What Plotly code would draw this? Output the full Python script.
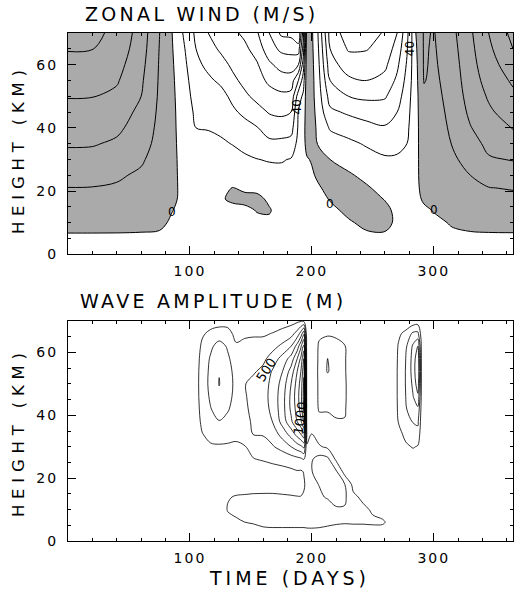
import numpy as np
import plotly.graph_objects as go

# ---------------- top panel: zonal wind (m/s), westerly positive ----------------
wind_days = [0, 20, 40, 60, 75, 85, 95, 105, 115, 125, 135, 145, 155, 165, 175, 183,
             189, 193, 196, 200, 205, 215, 230, 245, 260, 270, 278, 285, 292, 300,
             315, 330, 345, 365]
wind_heights = [6.3, 10, 14, 17.5, 21, 25, 30, 35, 40, 45, 50, 55, 60, 65, 70]
# one column per day, listed from the lowest height to the highest
wind_cols = [
    [-0.5, 4, 6.5, 8.2, 9.9, 12.5, 17, 21, 24, 27, 30.5, 34, 37.5, 40.5, 43],
    [-0.5, 4, 6.5, 8.2, 9.8, 12.2, 16.5, 20.8, 24, 27, 30.3, 33.5, 37, 40.2, 42],
    [-0.5, 3.5, 6, 7.8, 9.2, 11, 15, 18.5, 22, 25, 28, 31, 33.5, 36, 38],
    [-0.5, 2.2, 4.5, 6, 7.2, 8.8, 11, 13.5, 15.5, 17.5, 20, 21.5, 23, 24.5, 25.5],
    [-0.5, 1.0, 2.6, 4, 5, 5.5, 6.5, 7.2, 7.8, 8.3, 8.7, 9, 9.3, 9.7, 10.2],
    [-0.5, -0.6, 0.2, 1.2, 1.6, 1.8, 2, 2, 2, 2, 2, 1.8, 1.5, 1, 0.5],
    [-0.5, -1, -1.2, -1.4, -1.6, -2, -2.5, -3, -3.5, -4, -5, -6, -7.5, -9, -11],
    [-1, -2, -3, -3.7, -4.3, -5.5, -7, -8.5, -10, -12, -14, -16, -18, -20, -22],
    [-1, -2, -2.8, -3.3, -4.5, -6, -7.5, -9, -10.2, -12.5, -15, -18.5, -22, -26, -30],
    [-1, -2, -2.5, -0.8, -1.8, -5, -7, -8.8, -11.5, -14, -17, -21.5, -26, -31.5, -36],
    [-1, -1.5, -2, 1.2, 0.2, -4, -7, -10.3, -14, -18.5, -22, -27.5, -32, -35.5, -38],
    [-1, -1.5, -1.2, 1.5, -1, -5, -8.5, -12.5, -17, -22, -28, -33, -35.5, -38, -42],
    [-1, -1.2, 0.3, 1.5, -1.5, -5, -9.8, -14.5, -19.5, -26, -33, -36, -39, -44, -49],
    [-1, -1, 0.5, -1, -4, -7, -10.6, -18, -24, -30.8, -36, -42, -48, -56, -60],
    [-1, -1.5, -2.5, -3.5, -5, -7, -10.8, -17.5, -25, -32, -38, -45, -54, -62, -72],
    [-1, -1.5, -2.5, -3.5, -5, -7, -9.4, -16, -24, -30, -37, -45, -55, -63, -73],
    [-1, -1.5, -2.5, -3, -4, -5, -6, -7, -8.5, -9.5, -15, -30, -50, -65, -80],
    [-1, -1.5, -2, -2.5, -3, -3.5, -3, -2, -3, -5, -8, -15, -25, -35, -45],
    [-0.5, -1, -1.5, -1, -0.8, -1, -0.5, 2, 4, 5, 6, 7, 8, 8, 8],
    [-0.5, -1, -1.5, -1.5, -1.2, -0.8, 0.5, 3, 4, 3.5, 3, 3, 2.5, 2, 1.5],
    [-0.5, -1, -1.5, -1.5, -0.8, 1, 2, -0.3, -2, -3.5, -5, -6, -7, -8.5, -10],
    [-0.5, -1, -1, 0.3, 2, 3, 0, -5, -11, -18, -24, -30, -36, -40, -44],
    [-0.5, -0.5, 1, 2.5, 3, 1, -3, -8, -14, -21.5, -30, -38, -45, -51, -55],
    [-0.5, 1, 2.5, 2.5, 0.8, -2, -6.5, -11, -17, -24, -32, -40, -46, -50.5, -54],
    [-0.5, 1.5, 1.5, -0.3, -2.5, -5, -9, -13, -19, -25, -31, -37, -42, -46, -49],
    [-0.5, -1, -1.5, -2, -3.5, -5, -9, -12, -16, -20, -24, -28, -32, -36, -40],
    [-0.5, -1, -1.5, -2, -3, -4.5, -7, -10, -12, -13.5, -15, -17, -19, -21, -23],
    [-0.5, -0.8, -1, -1, -1.2, -1.5, -2, -2.5, -3, -3.2, -3.5, -3.5, -3, -2, -0.5],
    [-0.5, -1, -0.6, 0.5, 1.5, 2.5, 3.5, 4.5, 5.5, 6.5, 8, 10.5, 11, 11, 11],
    [-0.5, -0.8, 0.2, 1.5, 2.5, 3.2, 4, 4.8, 5.5, 6.2, 7, 7.8, 8.5, 9, 9.5],
    [-0.5, 0.3, 2.5, 4, 5.5, 7, 8.5, 10.3, 11.5, 12.5, 13.5, 14.5, 15.5, 16.5, 17.5],
    [-0.5, 1.5, 4, 6.5, 8.5, 10, 13, 16, 19.5, 22, 24, 25.5, 26.5, 27.5, 28.5],
    [-0.5, 2.5, 5.5, 8, 9.8, 13, 19, 22.5, 25.5, 28.5, 31, 33.5, 36, 38, 40],
    [-0.5, 3, 6, 8.3, 10.5, 15, 20.5, 25.5, 30.5, 34.5, 38, 41.5, 45.5, 50, 53],
]
wind_label_text = ["0", "0", "0", "40", "40"]
wind_label_day = [85, 215, 300, 188, 280]
wind_label_km = [13.5, 16, 14, 46.5, 65]
wind_label_angle = [0, 0, 0, -90, -90]

# ---------------- bottom panel: wave amplitude (m) ----------------
amp_days = [0, 104, 110, 117, 124, 131, 138, 145, 152, 160, 168, 176, 183, 188, 191,
            193.5, 196, 200, 206, 213, 220, 227, 234, 242, 250, 258, 265, 271, 277,
            283, 287, 290, 294, 365]
amp_heights = [0, 3, 6, 10, 14, 18, 22, 26, 30, 34, 38, 42, 46, 50, 54, 58, 62, 66, 70]
amp_cols = [
    [0] * 19,
    [0, 0, 0, 0, 0, 0, 0, 0, 0, 50, 100, 120, 130, 130, 130, 120, 100, 60, 0],
    [0, 0, 0, 0, 0, 0, 0, 50, 150, 240, 300, 330, 350, 360, 350, 330, 290, 220, 80],
    [0, 0, 0, 0, 0, 0, 0, 80, 220, 320, 420, 490, 540, 570, 560, 530, 450, 300, 150],
    [0, 0, 0, 0, 0, 0, 0, 100, 230, 330, 490, 600, 700, 760, 740, 640, 600, 360, 150],
    [0, 0, 150, 270, 230, 80, 0, 100, 220, 330, 440, 520, 570, 590, 580, 540, 470, 330, 160],
    [0, 60, 220, 300, 270, 120, 0, 100, 200, 320, 380, 410, 430, 440, 420, 370, 280, 180, 80],
    [0, 120, 250, 310, 280, 130, 0, 120, 240, 340, 420, 460, 480, 490, 480, 430, 330, 200, 90],
    [0, 160, 270, 320, 290, 140, 80, 240, 330, 510, 540, 560, 570, 570, 470, 400, 330, 220, 100],
    [0, 220, 280, 320, 290, 150, 120, 270, 380, 520, 600, 640, 660, 650, 560, 440, 340, 220, 110],
    [0, 220, 290, 320, 290, 150, 160, 300, 480, 620, 760, 820, 840, 820, 780, 620, 420, 260, 120],
    [0, 220, 290, 310, 280, 140, 180, 330, 600, 850, 1100, 1150, 1150, 1100, 1000, 850, 560, 320, 150],
    [0, 220, 290, 300, 270, 130, 200, 380, 750, 1100, 1450, 1550, 1560, 1500, 1350, 1100, 750, 400, 170],
    [0, 220, 290, 300, 260, 120, 230, 420, 880, 1350, 1750, 1850, 1900, 1850, 1750, 1500, 1100, 600, 200],
    [0, 220, 290, 300, 260, 130, 220, 450, 950, 1500, 1950, 2100, 2150, 2100, 2000, 1800, 1450, 850, 230],
    [0, 220, 290, 300, 270, 230, 260, 500, 1050, 1700, 2300, 2550, 2600, 2550, 2450, 2250, 1850, 1200, 200],
    [0, 220, 300, 320, 320, 300, 300, 300, 270, 180, 60, 20, 10, 10, 10, 10, 10, 10, 0],
    [0, 210, 320, 380, 420, 460, 495, 480, 400, 260, 80, 30, 20, 20, 20, 20, 10, 10, 0],
    [0, 200, 320, 400, 470, 505, 570, 600, 280, 120, 150, 280, 300, 300, 310, 300, 290, 200, 50],
    [0, 180, 300, 400, 520, 560, 580, 560, 200, 80, 160, 280, 320, 360, 520, 510, 330, 230, 50],
    [0, 160, 280, 480, 560, 580, 540, 200, 60, 100, 230, 300, 320, 330, 360, 340, 300, 220, 40],
    [0, 150, 270, 480, 540, 505, 150, 60, 30, 60, 240, 270, 280, 280, 270, 270, 260, 180, 30],
    [0, 140, 280, 340, 300, 180, 60, 20, 10, 20, 80, 100, 100, 100, 100, 90, 80, 50, 0],
    [0, 140, 280, 300, 200, 80, 20, 0, 0, 0, 0, 0, 0, 0, 0, 0, 0, 0, 0],
    [0, 150, 290, 220, 120, 30, 0, 0, 0, 0, 0, 0, 0, 0, 0, 0, 0, 0, 0],
    [0, 160, 280, 150, 50, 0, 0, 0, 0, 0, 0, 0, 0, 0, 0, 0, 0, 0, 0],
    [0, 100, 180, 100, 20, 0, 0, 0, 0, 0, 0, 0, 0, 0, 0, 0, 0, 0, 0],
    [0, 0, 0, 0, 0, 0, 0, 0, 30, 150, 260, 290, 300, 300, 300, 290, 270, 200, 30],
    [0, 0, 0, 0, 0, 0, 0, 60, 200, 330, 420, 470, 500, 510, 510, 500, 450, 320, 60],
    [0, 0, 0, 0, 0, 0, 0, 100, 270, 430, 510, 680, 740, 800, 850, 840, 790, 550, 100],
    [0, 0, 0, 0, 0, 0, 0, 50, 230, 420, 540, 700, 950, 1150, 1250, 1200, 1000, 560, 120],
    [0, 0, 0, 0, 0, 0, 0, 0, 30, 80, 120, 150, 180, 200, 200, 200, 180, 120, 30],
    [0] * 19,
    [0] * 19,
]
amp_label_text = ["500", "1000"]
amp_label_day = [163, 190.5]
amp_label_km = [54.5, 39]
amp_label_angle = [-57, -82]

x_tick_vals = [100, 200, 300]
y_tick_vals = [0, 20, 40, 60]

# ---------------- figure ----------------
FONT = "DejaVu Sans"
INK = "#000000"


def spaced(s, px):
    return '<span style="letter-spacing:%.1fpx">%s</span>' % (px, s)


z_wind = np.array(wind_cols, dtype=float).T
z_amp = np.array(amp_cols, dtype=float).T

gray = "#aaaaaa"
fig = go.Figure()
fig.add_trace(go.Contour(
    x=wind_days, y=wind_heights, z=z_wind,
    contours=dict(start=-90, end=60, size=10, coloring="fill", showlabels=False),
    colorscale=[[0, "white"], [0.6, "white"], [0.6, gray], [1, gray]],
    zmin=-90, zmax=60, showscale=False,
    line=dict(color=INK, width=1, smoothing=1),
    hoverinfo="skip", xaxis="x", yaxis="y"))
fig.add_trace(go.Contour(
    x=amp_days, y=amp_heights, z=z_amp,
    contours=dict(start=250, end=3000, size=250, coloring="none", showlabels=False),
    showscale=False,
    line=dict(color=INK, width=0.8, smoothing=1),
    hoverinfo="skip", xaxis="x2", yaxis="y2"))

tickfont = dict(family=FONT, size=14, color=INK, weight=400)


def xaxis_cfg(anchor):
    return dict(range=[0, 365], tickvals=x_tick_vals,
                ticktext=[spaced(str(v), 2) for v in x_tick_vals],
                ticks="inside", ticklen=8, tickwidth=1, tickcolor=INK,
                minor=dict(ticks="inside", ticklen=3, dtick=20, tick0=0, tickcolor=INK),
                showline=True, linecolor=INK, linewidth=1.2, mirror="allticks",
                showgrid=False, zeroline=False, tickfont=tickfont, anchor=anchor,
                ticklabelstandoff=4)


def yaxis_cfg(domain, anchor):
    return dict(range=[0, 70], domain=domain, tickvals=y_tick_vals,
                ticktext=[spaced(str(v), 2) for v in y_tick_vals],
                ticks="inside", ticklen=8, tickwidth=1, tickcolor=INK,
                minor=dict(ticks="inside", ticklen=3, dtick=5, tick0=0, tickcolor=INK),
                showline=True, linecolor=INK, linewidth=1.2, mirror="allticks",
                showgrid=False, zeroline=False, tickfont=tickfont, anchor=anchor,
                ticklabelstandoff=6)


annotations = []
title_font = dict(family=FONT, size=19, color=INK, weight=400)
annotations.append(dict(text=spaced("ZONAL WIND (M/S)", 3.3), xref="paper", yref="paper",
                        x=0.033, y=1.037, xanchor="left", yanchor="middle",
                        showarrow=False, font=title_font))
annotations.append(dict(text=spaced("WAVE AMPLITUDE (M)", 3.3), xref="paper", yref="paper",
                        x=0.022, y=0.472, xanchor="left", yanchor="middle",
                        showarrow=False, font=title_font))
annotations.append(dict(text=spaced("TIME (DAYS)", 4.0), xref="paper", yref="paper",
                        x=0.4975, y=-0.072, xanchor="center", yanchor="middle",
                        showarrow=False, font=title_font))
for yc in (0.7717, 0.2146):
    annotations.append(dict(text=spaced("HEIGHT (KM)", 5.8), xref="paper", yref="paper",
                            x=-0.1098, y=yc, xanchor="center", yanchor="middle",
                            textangle=-90, showarrow=False,
                            font=dict(family=FONT, size=16.5, color=INK, weight=400)))
for t, d, k, a in zip(wind_label_text, wind_label_day, wind_label_km, wind_label_angle):
    annotations.append(dict(text=t, x=d, y=k, xref="x", yref="y", showarrow=False,
                            textangle=a, font=dict(family=FONT, size=12, color=INK, weight=400)))
for t, d, k, a in zip(amp_label_text, amp_label_day, amp_label_km, amp_label_angle):
    annotations.append(dict(text=t, x=d, y=k, xref="x2", yref="y2", showarrow=False,
                            textangle=a, font=dict(family=FONT, size=13, color=INK, weight=400)))

fig.update_layout(
    template="none",
    width=531, height=589,
    margin=dict(l=68, r=18, t=33, b=48),
    paper_bgcolor="white", plot_bgcolor="white",
    showlegend=False,
    xaxis=xaxis_cfg("y"),
    yaxis=yaxis_cfg([0.5644, 1.0], "x"),
    xaxis2=xaxis_cfg("y2"),
    yaxis2=yaxis_cfg([0.0, 0.433], "x2"),
    annotations=annotations,
    font=dict(family=FONT, color=INK),
)

fig.write_html("out.html", config={"displayModeBar": False},
               post_script="document.body.style.margin='0px';")
